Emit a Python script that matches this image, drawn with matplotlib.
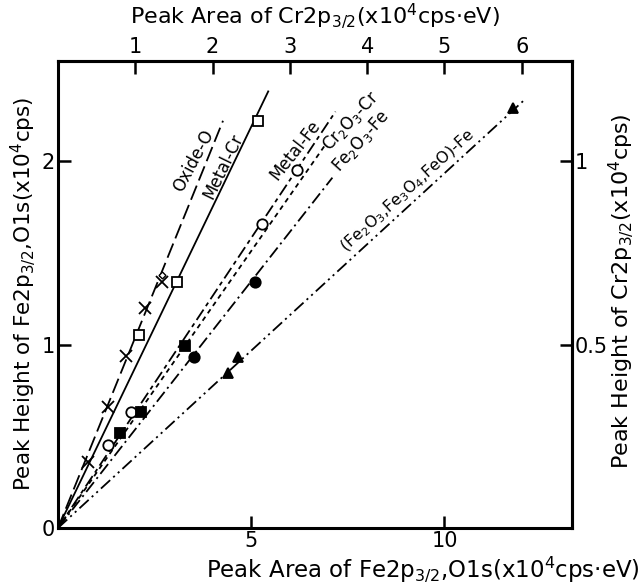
import matplotlib
matplotlib.use("Agg")
import matplotlib.pyplot as plt

plt.rcParams['font.family'] = ['DejaVu Sans']
plt.rcParams['mathtext.default'] = 'regular'
plt.rcParams['lines.scale_dashes'] = False

# values, in bottom (Fe2p3/2,O1s area) / left (height) units
oxide_o_x = [0.78, 1.30, 1.76, 2.25, 2.69]
oxide_o_y = [0.36, 0.66, 0.94, 1.20, 1.34]
oxide_o_end = (4.27, 2.22)

metal_cr_x = [2.10, 3.08, 5.18]
metal_cr_y = [1.05, 1.34, 2.22]
metal_cr_end = (5.44, 2.38)

metal_fe_x = [1.30, 1.89, 5.28, 6.19]
metal_fe_y = [0.45, 0.63, 1.66, 1.95]
metal_fe_end = (7.18, 2.27)

cr2o3_cr_x = [1.61, 2.15, 3.29]
cr2o3_cr_y = [0.52, 0.63, 0.99]
cr2o3_cr_end = (6.92, 2.09)

fe2o3_fe_x = [3.52, 5.10]
fe2o3_fe_y = [0.93, 1.34]
fe2o3_fe_end = (7.10, 1.91)

oxides_fe_x = [4.40, 4.66, 11.76]
oxides_fe_y = [0.845, 0.93, 2.29]
oxides_fe_end = (12.10, 2.34)

bottom_ticks = [5, 10]
left_ticks = [0, 1, 2]
top_ticks = [1, 2, 3, 4, 5, 6]
right_ticks = [0.5, 1]

fig = plt.figure(figsize=(6.42, 5.88), dpi=100)
ax = fig.add_axes([0.0903, 0.102, 0.8007, 0.794])

lw = 1.3
series = [
    (oxide_o_x, oxide_o_y, oxide_o_end, (11, 4), 'x', 'none'),
    (metal_cr_x, metal_cr_y, metal_cr_end, None, 's', 'white'),
    (metal_fe_x, metal_fe_y, metal_fe_end, (9, 3, 3, 3), 'o', 'white'),
    (cr2o3_cr_x, cr2o3_cr_y, cr2o3_cr_end, (3.5, 3), 's', 'black'),
    (fe2o3_fe_x, fe2o3_fe_y, fe2o3_fe_end, (9, 3, 1.5, 3), 'o', 'black'),
    (oxides_fe_x, oxides_fe_y, oxides_fe_end, (9, 3, 1.5, 3, 1.5, 3), '^', 'black'),
]
for xs, ys, end, dash, mk, fc in series:
    line, = ax.plot([0, end[0]], [0, end[1]], color='black', lw=lw)
    if dash is not None:
        line.set_dashes(dash)
    ax.plot(xs, ys, ls='none', marker=mk, ms=7.5 if mk != 'x' else 8.5,
            mfc=fc, mec='black', mew=1.3, color='black')

# small diamond sitting on the last cross
ax.plot([2.69], [1.38], ls='none', marker='D', ms=3.5, mfc='white', mec='black', mew=1)

lab_kw = dict(fontsize=12, ha='center', va='center', rotation_mode='anchor')
ax.text(3.50, 2.00, 'Oxide-O', rotation=62, **lab_kw)
ax.text(4.27, 1.97, 'Metal-Cr', rotation=64, **lab_kw)
ax.text(6.15, 2.06, 'Metal-Fe', rotation=52, **lab_kw)
ax.text(7.58, 2.22, 'Cr$_2$O$_3$-Cr', rotation=47, **lab_kw)
ax.text(7.85, 2.11, 'Fe$_2$O$_3$-Fe', rotation=48, **lab_kw)
ax.text(9.04, 1.84, '(Fe$_2$O$_3$,Fe$_3$O$_4$,FeO)-Fe', rotation=42,
        **dict(lab_kw, fontsize=11.5))

ax.set_xlim(0, 13.3)
ax.set_ylim(0, 2.545)
ax.set_xticks(bottom_ticks)
ax.set_yticks(left_ticks)
ax.tick_params(direction='in', length=9, width=1.8, labelsize=15, pad=2)
for sp in ax.spines.values():
    sp.set_linewidth(2.2)

top = ax.secondary_xaxis('top', functions=(lambda v: v / 2, lambda v: v * 2))
top.set_xticks(top_ticks)
top.tick_params(direction='in', length=9, width=1.8, labelsize=15, pad=3)
top.spines['top'].set_linewidth(2.2)

right = ax.secondary_yaxis('right', functions=(lambda v: v / 2, lambda v: v * 2))
right.set_yticks(right_ticks)
right.set_yticklabels(['0.5', '1'])
right.tick_params(direction='in', length=9, width=1.8, labelsize=15, pad=2)
right.spines['right'].set_linewidth(2.2)

fig.text(0.49, 0.972, 'Peak Area of Cr2p$_{3/2}$(x10$^4$cps·eV)', fontsize=16,
         ha='center', va='center')
fig.text(0.997, 0.032, 'Peak Area of Fe2p$_{3/2}$,O1s(x10$^4$cps·eV)', fontsize=16.5,
         ha='right', va='center')
fig.text(0.036, 0.5, 'Peak Height of Fe2p$_{3/2}$,O1s(x10$^4$cps)', fontsize=15.5,
         rotation=90, ha='center', va='center')
fig.text(0.968, 0.505, 'Peak Height of Cr2p$_{3/2}$(x10$^4$cps)', fontsize=16,
         rotation=90, ha='center', va='center')

fig.savefig('out.png', dpi=100)
